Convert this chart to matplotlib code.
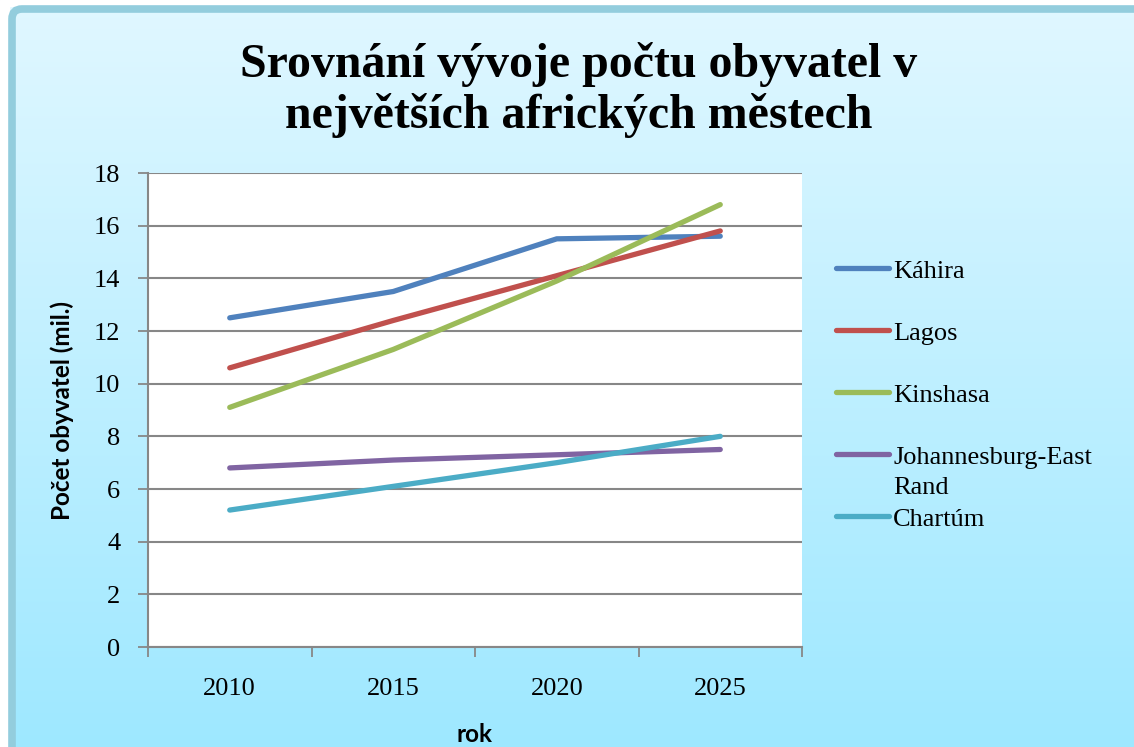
import numpy as np
import matplotlib
matplotlib.use('Agg')
import matplotlib.pyplot as plt
from matplotlib.patches import FancyBboxPatch
from matplotlib.lines import Line2D

# data (mil. obyvatel)
roky = ['2010', '2015', '2020', '2025']
kahira = [12.5, 13.5, 15.5, 15.6]
lagos = [10.6, 12.4, 14.1, 15.8]
kinshasa = [9.1, 11.3, 13.9, 16.8]
johannesburg = [6.8, 7.1, 7.3, 7.5]
chartum = [5.2, 6.1, 7.0, 8.0]

mesta = ['Káhira', 'Lagos', 'Kinshasa', 'Johannesburg-East\nRand', 'Chartúm']
serie = [kahira, lagos, kinshasa, johannesburg, chartum]
barvy = ['#4F81BD', '#C0504D', '#9BBB59', '#8064A2', '#4BACC6']

W, H = 1134, 747
fig = plt.figure(figsize=(W / 100, H / 100), dpi=100)

# pozadi s prechodem
bg = fig.add_axes([0, 0, 1, 1], zorder=-10)
grad = np.linspace(0, 1, 256).reshape(-1, 1, 1)
top = np.array([0.88, 0.97, 1.0])
bot = np.array([0.62, 0.91, 1.0])
img = top + (bot - top) * grad
bg.imshow(img, aspect='auto', extent=[0, W, 0, H], origin='upper')
bg.set_xlim(0, W)
bg.set_ylim(0, H)
bg.axis('off')
# bile okraje mimo ramecek
bg.add_patch(plt.Rectangle((0, H - 6), W, 6, color='white', zorder=1))
bg.add_patch(plt.Rectangle((0, 0), 9, H, color='white', zorder=1))
ramecek = FancyBboxPatch((12, -40), W + 20, H - 9 + 40,
                         boxstyle='round,pad=0,rounding_size=10',
                         fc='none', ec='#93CDDD', lw=5.5, zorder=2)
bg.add_patch(ramecek)

ax = fig.add_axes([148 / W, 1 - 647 / H, (802 - 148) / W, (647 - 173) / H])
ax.set_facecolor('white')
x = np.arange(len(roky))
for vals, c in zip(serie, barvy):
    ax.plot(x, vals, color=c, lw=3.8, solid_capstyle='round', zorder=3)

ax.set_xlim(-0.5, 3.5)
ax.set_ylim(0, 18)
ax.set_yticks(range(0, 19, 2))
ax.yaxis.grid(True, color='#878787', lw=1.5)
ax.set_axisbelow(True)
ax.set_xticks(x)
ax.set_xticklabels(roky)
ax.set_xticks(np.arange(-0.5, 3.6, 1), minor=True)
ax.tick_params(axis='x', which='major', length=0, pad=22)
ax.tick_params(axis='x', which='minor', length=7, width=1.3, color='#878787', direction='out')
ax.tick_params(axis='y', length=7, width=1.3, color='#878787', direction='out', pad=13)
for lab in ax.get_xticklabels() + ax.get_yticklabels():
    lab.set_fontfamily('Liberation Serif')
    lab.set_fontsize(19)
for s in ['top', 'right']:
    ax.spines[s].set_visible(False)
for s in ['left', 'bottom']:
    ax.spines[s].set_color('#878787')
    ax.spines[s].set_linewidth(1.5)

fig.text(579 / W, 1 - 90 / H, 'Srovnání vývoje počtu obyvatel v\nnejvětších afrických městech',
         ha='center', va='center', fontfamily='Liberation Serif', fontweight='bold',
         fontsize=34.5, linespacing=1.17)
fig.text(62 / W, 1 - 410 / H, 'Počet obyvatel (mil.)', rotation=90, ha='center', va='center',
         fontfamily='Lato', fontweight='bold', fontsize=17.5)
fig.text(475 / W, 1 - 734 / H, 'rok', ha='center', va='center',
         fontfamily='Lato', fontweight='bold', fontsize=17.5)

# legenda
leg_y = [268, 330, 392, 454, 516]
for yy, name, c in zip(leg_y, mesta, barvy):
    fig.add_artist(Line2D([836 / W, 889 / W], [1 - yy / H, 1 - yy / H], color=c, lw=3.8,
                          solid_capstyle='round', transform=fig.transFigure))
    for i, radek in enumerate(name.split('\n')):
        fig.text(893 / W, 1 - (yy + 10 + 30 * i) / H, radek, ha='left', va='baseline',
                 fontfamily='Liberation Serif', fontsize=19)

fig.savefig('out.png', dpi=100)
